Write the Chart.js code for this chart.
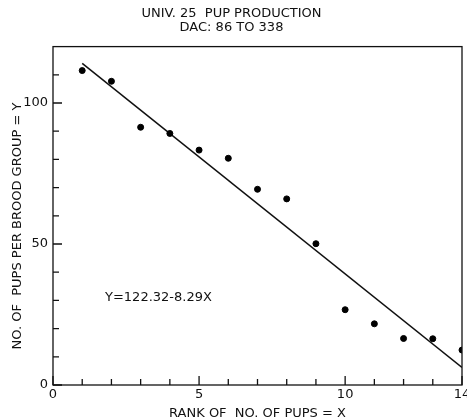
<!DOCTYPE html>
<html>
<head>
<meta charset="utf-8">
<script src="https://cdn.jsdelivr.net/npm/chart.js@4"></script>
<style>
  html, body { margin: 0; padding: 0; background: #fff; }
  #wrap { width: 467px; height: 419px; }
</style>
</head>
<body>
<div id="wrap"><canvas id="chart" width="467" height="419"></canvas></div>
<script>
// data
const rankX = [1, 2, 3, 4, 5, 6, 7, 8, 9, 10, 11, 12, 13, 14];
const pupsY = [111.5, 107.7, 91.4, 89.2, 83.3, 80.4, 69.4, 66.0, 50.1, 26.7, 21.7, 16.5, 16.4, 12.4];
// fitted line Y = 122.32 - 8.29X, end points
const fitX = [1, 14];
const fitY = [114.03, 6.26];

const xTickValues = [0, 1, 2, 3, 4, 5, 6, 7, 8, 9, 10, 11, 12, 13, 14];
const xTickLabels = [0, 5, 10, 14];
const yTickValues = [0, 10, 20, 30, 40, 50, 60, 70, 80, 90, 100, 110];
const yTickLabels = [0, 50, 100];

const titleLines = ['UNIV. 25  PUP PRODUCTION', 'DAC: 86 TO 338'];
const xTitle = 'RANK OF  NO. OF PUPS = X';
const yTitle = 'NO. OF  PUPS PER BROOD GROUP = Y';
const equation = 'Y=122.32-8.29X';

const FONT = 'DejaVu Sans';

// inward ticks, box, rotated y title and equation
const decor = {
    id: 'decor',
    afterDraw(chart) {
        const { ctx, chartArea: a, scales: { x, y } } = chart;
        ctx.save();
        ctx.strokeStyle = '#111';
        ctx.lineWidth = 1.3;
        ctx.strokeRect(a.left, a.top, a.right - a.left, a.bottom - a.top);

        ctx.beginPath();
        xTickValues.forEach(v => {
            const px = x.getPixelForValue(v);
            const len = xTickLabels.includes(v) ? 9 : 6;
            ctx.moveTo(px, a.bottom);
            ctx.lineTo(px, a.bottom - len);
        });
        yTickValues.forEach(v => {
            const py = y.getPixelForValue(v);
            const len = yTickLabels.includes(v) ? 9 : 6;
            ctx.moveTo(a.left, py);
            ctx.lineTo(a.left + len, py);
        });
        ctx.stroke();

        ctx.fillStyle = '#111';
        ctx.font = '13px "' + FONT + '"';
        ctx.textBaseline = 'middle';
        ctx.textAlign = 'left';
        ctx.fillText(equation, x.getPixelForValue(1.78), y.getPixelForValue(31));

        ctx.translate(18, 226);
        ctx.rotate(-Math.PI / 2);
        ctx.textAlign = 'center';
        ctx.fillText(yTitle, 0, 0);
        ctx.restore();
    }
};

new Chart(document.getElementById('chart'), {
    type: 'scatter',
    data: {
        datasets: [
            {
                label: 'pups',
                data: rankX.map((r, i) => ({ x: r, y: pupsY[i] })),
                backgroundColor: '#000',
                borderColor: '#000',
                pointRadius: 3,
                showLine: false
            },
            {
                label: 'fit',
                data: fitX.map((r, i) => ({ x: r, y: fitY[i] })),
                borderColor: '#111',
                borderWidth: 1.5,
                pointRadius: 0,
                showLine: true
            }
        ]
    },
    plugins: [decor],
    options: {
        responsive: false,
        animation: false,
        layout: { padding: { left: 0, right: 4, top: 0, bottom: 0 } },
        plugins: {
            legend: { display: false },
            tooltip: { enabled: false },
            title: {
                display: true,
                text: titleLines,
                color: '#111',
                font: { family: FONT, size: 13, weight: 'normal', lineHeight: 1.1 },
                padding: { top: 6, bottom: 12 }
            }
        },
        scales: {
            x: {
                type: 'linear',
                min: 0,
                max: 14,
                grid: { display: false, drawTicks: false },
                border: { display: false },
                afterBuildTicks: s => { s.ticks = xTickValues.map(v => ({ value: v })); },
                afterFit: s => { s.height = 34; s.paddingLeft = 0; s.paddingRight = 0; },
                ticks: {
                    autoSkip: false,
                    maxRotation: 0,
                    padding: 2,
                    color: '#111',
                    font: { family: FONT, size: 13 },
                    callback: v => xTickLabels.includes(v) ? String(v) : ''
                },
                title: {
                    display: true,
                    text: xTitle,
                    color: '#111',
                    font: { family: FONT, size: 13, lineHeight: 1 },
                    padding: { top: 0, bottom: -1 }
                }
            },
            y: {
                type: 'linear',
                min: 0,
                max: 120,
                grid: { display: false, drawTicks: false },
                border: { display: false },
                afterBuildTicks: s => { s.ticks = yTickValues.map(v => ({ value: v })); },
                afterFit: s => { s.width = 53; },
                ticks: {
                    autoSkip: false,
                    padding: 5,
                    color: '#111',
                    font: { family: FONT, size: 13 },
                    callback: v => yTickLabels.includes(v) ? String(v) : ''
                }
            }
        }
    }
});
</script>
</body>
</html>
